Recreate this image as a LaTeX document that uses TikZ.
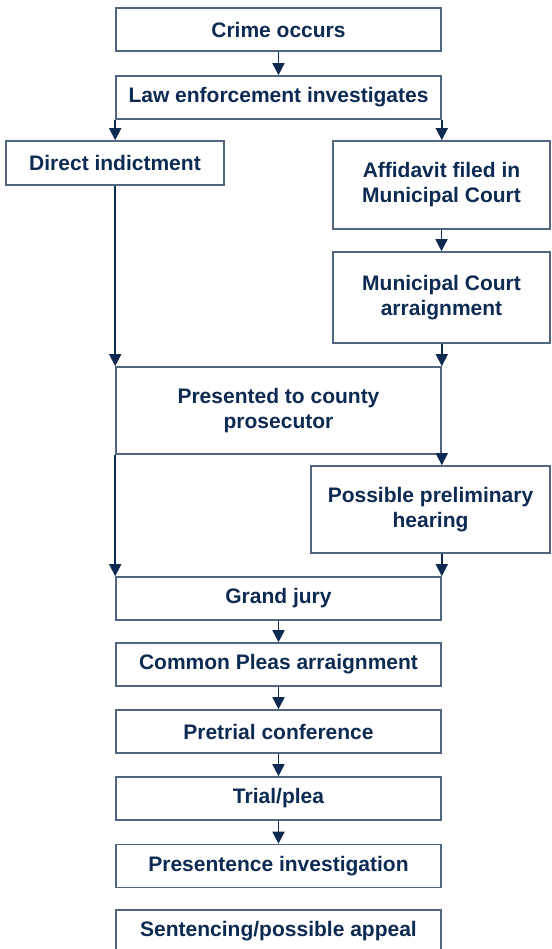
\documentclass[tikz,border=0pt]{standalone}
\usepackage{fontspec}
\setmainfont{Liberation Sans}
\usetikzlibrary{arrows.meta}
\definecolor{navy}{HTML}{0D2B52}
\definecolor{boxline}{HTML}{53667F}
\begin{document}
\begin{tikzpicture}[x=1pt,y=-1pt,
  box/.style={draw=boxline,line width=1.6pt,fill=white,text=navy,
    font=\fontsize{21}{25}\selectfont\bfseries,align=center,inner sep=0pt},
  conn/.style={draw=navy,line width=1.6pt,-{Triangle[width=12pt,length=12pt]}}]
\useasboundingbox (0,0) rectangle (551,949);
\fill[white] (0,0) rectangle (551,949);
\node[box,minimum width=325pt,minimum height=43pt] (crime) at (278.5,29.5) {Crime occurs};
\node[box,minimum width=325pt,minimum height=43pt] (law) at (278.5,97.5) {Law enforcement investigates};
\node[box,minimum width=218pt,minimum height=44pt] (direct) at (115,163) {Direct indictment};
\node[box,minimum width=217pt,minimum height=88pt] (affid) at (441.5,185) {Affidavit filed in\\Municipal Court};
\node[box,minimum width=217pt,minimum height=91pt] (muni) at (441.5,297.5) {Municipal Court\\arraignment};
\node[box,minimum width=325pt,minimum height=87pt] (pres) at (278.5,410.5) {Presented to county\\prosecutor};
\node[box,minimum width=239pt,minimum height=87pt] (prelim) at (430.5,509.5) {Possible preliminary\\hearing};
\node[box,minimum width=325pt,minimum height=43pt] (grand) at (278.5,598.5) {Grand jury};
\node[box,minimum width=325pt,minimum height=43pt] (common) at (278.5,664.5) {Common Pleas arraignment};
\node[box,minimum width=325pt,minimum height=43pt] (pretrial) at (278.5,731.5) {Pretrial conference};
\node[box,minimum width=325pt,minimum height=43pt] (trial) at (278.5,798.5) {Trial/plea};
\node[box,minimum width=325pt,minimum height=43pt] (presentence) at (278.5,866) {Presentence investigation};
\node[box,minimum width=325pt,minimum height=43pt] (sentencing) at (278.5,931.5) {Sentencing/possible appeal};
\draw[conn] (crime.south) -- (law.north);
\draw[conn] (law.south west) -- (law.south west |- direct.north);
\draw[conn] (law.south east) -- (law.south east |- affid.north);
\draw[conn] (affid.south) -- (muni.north);
\draw[conn] (pres.north west |- direct.south) -- (pres.north west);
\draw[conn] (pres.north east |- muni.south) -- (pres.north east);
\draw[conn] (pres.south east) -- (pres.south east |- prelim.north);
\draw[conn] (pres.south west) -- (grand.north west);
\draw[conn] (grand.north east |- prelim.south) -- (grand.north east);
\draw[conn] (grand.south) -- (common.north);
\draw[conn] (common.south) -- (pretrial.north);
\draw[conn] (pretrial.south) -- (trial.north);
\draw[conn] (trial.south) -- (presentence.north);
\end{tikzpicture}
\end{document}
